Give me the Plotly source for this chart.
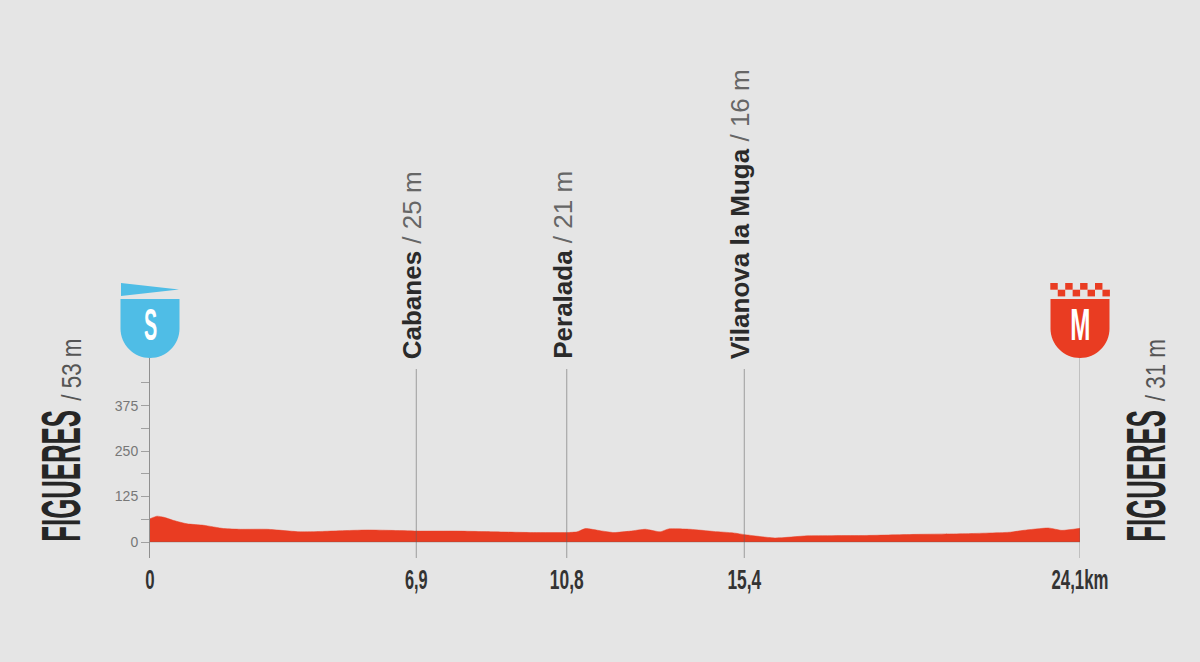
import plotly.graph_objects as go

# Elevation profile
km = [0, 0.18, 0.36, 0.62, 0.96, 1.39, 1.91, 2.34, 3.04, 3.9, 4.42, 4.93, 5.63, 6.23, 6.92,
      7.96, 8.91, 9.94, 10.8, 11.07, 11.28, 11.67, 12.02, 12.45, 12.84, 13.22, 13.44, 14.0,
      14.61, 15.12, 15.43, 16.2, 17.03, 18.58, 19.87, 21.17, 22.29, 22.63, 23.28, 23.63, 24.1]
elev = [64, 71, 68, 59, 50, 46, 37, 35, 35, 28, 29, 31, 33, 32, 30,
        30, 28, 26, 26, 28, 37, 31, 26, 30, 35, 28, 36, 35,
        29, 25, 20, 11, 17, 18, 21, 23, 27, 32, 38.5, 32, 37.6]

# Stops
stop_km = [6.9, 10.8, 15.4]
stop_names = ["Cabanes", "Peralada", "Vilanova la Muga"]
stop_elev = ["25 m", "21 m", "16 m"]

# Axis ticks
x_ticks = [0, 6.9, 10.8, 15.4, 24.1]
x_labels = ["0", "6,9", "10,8", "15,4", "24,1km"]
y_ticks = [0, 62.5, 125, 187.5, 250, 312.5, 375, 437.5]
y_labels = ["0", "", "125", "", "250", "", "375", ""]

# Start / finish
start_name, start_elev = "FIGUERES", "53 m"
finish_name, finish_elev = "FIGUERES", "31 m"

BG = "#e5e5e5"
RED = "#e93c22"
BLUE = "#4fbde6"
LINE = "rgba(95,95,95,0.55)"
SANS = "Liberation Sans"

fig = go.Figure()
fig.add_trace(go.Scatter(x=km, y=elev, mode="lines", fill="tozeroy", fillcolor=RED,
                         line=dict(color=RED, width=0.5, shape="spline", smoothing=0.5),
                         hoverinfo="skip", showlegend=False))

shapes = []
for k in stop_km:
    shapes.append(dict(type="line", xref="x", yref="paper", x0=k, x1=k, y0=0, y1=0.945,
                       line=dict(color=LINE, width=1)))
shapes.append(dict(type="line", xref="x", yref="paper", x0=24.1, x1=24.1, y0=0, y1=1,
                   line=dict(color=LINE, width=1)))
shapes.append(dict(type="line", xref="x", yref="y", x0=0, x1=24.1, y0=0, y1=0,
                   line=dict(color="rgba(95,95,95,0.35)", width=1)))


def badge(side, path, color):
    return dict(type="path", xref="paper", yref="paper", xsizemode="pixel", ysizemode="pixel",
                xanchor=side, yanchor=1, path=path, fillcolor=color, line=dict(width=0))


SHIELD = ("M-29.5,59 L29.5,59 L29.5,29.5 C29.5,13.2 16.3,0 0,0 "
          "C-16.3,0 -29.5,13.2 -29.5,29.5 Z")
shapes.append(badge(0, SHIELD, BLUE))
shapes.append(badge(1, SHIELD, RED))
shapes.append(badge(0, "M-29,75 L29,68.5 L-29,62 Z", BLUE))
for i in range(8):
    x0 = -29.7 + 7.45 * i
    y0, y1 = (68.3, 75) if i % 2 == 0 else (61.6, 68.3)
    shapes.append(badge(1, f"M{x0:.2f},{y0} L{x0+7.45:.2f},{y0} L{x0+7.45:.2f},{y1} L{x0:.2f},{y1} Z", RED))

annotations = []
for k, n, e in zip(stop_km, stop_names, stop_elev):
    annotations.append(dict(
        x=k, y=0.99, xref="x", yref="paper", xanchor="center", yanchor="bottom", xshift=-4,
        textangle=-90, showarrow=False, borderpad=0,
        text=f"<b>{n}</b><span style='color:#666666'> / {e}</span>",
        font=dict(family=SANS, size=26, color="#2a2a2a")))

for k, n, e, s1, s2 in [(0, start_name, start_elev, -89.5, -79.5),
                        (24.1, finish_name, finish_elev, 65.5, 75)]:
    annotations.append(dict(
        x=k, y=0.4075, xref="x", yref="paper", xanchor="center", yanchor="middle", xshift=s1,
        textangle=-90, showarrow=False, borderpad=0, text=f"<b>{n}</b>",
        font=dict(family=SANS, size=56, color="#262626")))
    annotations.append(dict(
        x=k, y=0.94, xref="x", yref="paper", xanchor="center", yanchor="middle", xshift=s2,
        textangle=-90, showarrow=False, borderpad=0, text=f"/ {e}",
        font=dict(family=SANS, size=28, color="#555555")))

for k, t in [(0, "S"), (24.1, "M")]:
    annotations.append(dict(
        x=k, y=1, xref="x", yref="paper", yshift=33.5, xanchor="center", yanchor="middle",
        showarrow=False, text=f"<b>{t}</b>", font=dict(family=SANS, size=44, color="white")))

fig.update_layout(
    width=1200, height=662, autosize=False,
    margin=dict(l=149.5, r=119.5, t=358, b=104, pad=0),
    paper_bgcolor=BG, plot_bgcolor=BG, showlegend=False,
    shapes=shapes, annotations=annotations,
    xaxis=dict(range=[0, 24.1], tickmode="array", tickvals=x_ticks, ticktext=x_labels,
               showgrid=False, zeroline=False, showline=False, ticks="",
               ticklabelstandoff=2, tickangle=0,
               tickfont=dict(family=SANS, size=28, color="#333333", weight=700)),
    yaxis=dict(range=[-44, 506], tickmode="array", tickvals=y_ticks, ticktext=y_labels,
               showgrid=False, zeroline=False, showline=True, linecolor="#8f8f8f", linewidth=1,
               ticks="outside", ticklen=8, tickcolor="#a0a0a0", tickwidth=1,
               tickfont=dict(family=SANS, size=14, color="#777777")),
)

# The reference's condensed display lettering: no condensed face is installed, so the
# real text elements are narrowed with SVG textLength; the page margin is removed as well.
post = """
document.documentElement.style.margin = '0';
document.body.style.margin = '0';
var factors = {'FIGUERES': 0.46, 'S': 0.45, 'M': 0.55, '/ 53 m': 0.8, '/ 31 m': 0.8,
               '0': 0.6, '6,9': 0.58, '10,8': 0.62, '15,4': 0.62, '24,1km': 0.6};
document.querySelectorAll('.annotation-text, .xtick text').forEach(function (el) {
  var f = factors[el.textContent];
  if (f) {
    el.setAttribute('textLength', el.getComputedTextLength() * f);
    el.setAttribute('lengthAdjust', 'spacingAndGlyphs');
  }
});
"""
fig.write_html("out.html", post_script=post, config={"displayModeBar": False})
